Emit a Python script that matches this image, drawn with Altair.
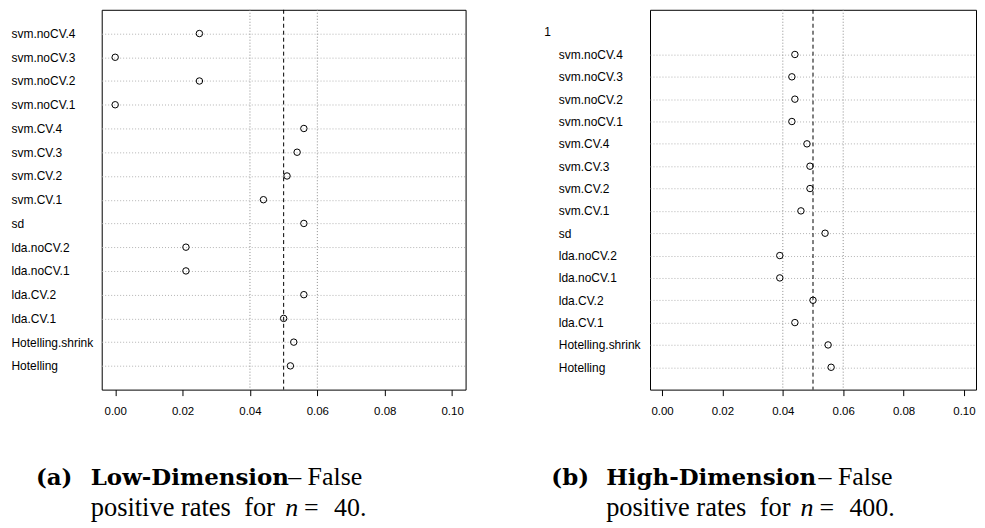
import altair as alt
import pandas as pd

# ---- data -------------------------------------------------------------
methods = ["svm.noCV.4", "svm.noCV.3", "svm.noCV.2", "svm.noCV.1",
           "svm.CV.4", "svm.CV.3", "svm.CV.2", "svm.CV.1", "sd",
           "lda.noCV.2", "lda.noCV.1", "lda.CV.2", "lda.CV.1",
           "Hotelling.shrink", "Hotelling"]
fpr_low = [0.025, 0.000, 0.025, 0.000, 0.056, 0.054, 0.051, 0.044, 0.056,
           0.021, 0.021, 0.056, 0.050, 0.053, 0.052]
fpr_high = [0.044, 0.043, 0.044, 0.043, 0.048, 0.049, 0.049, 0.046, 0.054,
            0.039, 0.039, 0.050, 0.044, 0.055, 0.056]
group_label_high = ["1"]
dotted_refs = [0.04, 0.06]
dashed_refs = [0.05]
x_ticks = [0.00, 0.02, 0.04, 0.06, 0.08, 0.10]
x_domain = [-0.004, 0.104]

caption_a_bold = ["(a)", "Low-Dimension"]
caption_a_plain = ["\u2013 False", "positive rates", "for", "=", "40."]
caption_b_bold = ["(b)", "High-Dimension"]
caption_b_plain = ["\u2013 False", "positive rates", "for", "=", "400."]
caption_italic = ["n"]

SANS = "Liberation Sans"
SERIF = "Liberation Serif"
BOLD_SERIF = "DejaVu Serif"
H = 381


def xenc():
    return alt.X(
        "fpr:Q",
        scale=alt.Scale(domain=x_domain, nice=False, zero=False),
        axis=alt.Axis(values=x_ticks, format=".2f", title=None, domain=False,
                      grid=False, ticks=True, tickSize=6, tickColor="black",
                      labelColor="black", labelFont=SANS, labelFontSize=11.5,
                      labelPadding=10, labelFlush=False),
    )


def text_piece(txt, x, y, weight="normal", style="normal", font=SERIF, size=26):
    return alt.Chart(pd.DataFrame({"t": [txt]})).mark_text(
        align="left", baseline="alphabetic", font=font, fontSize=size,
        fontWeight=weight, fontStyle=style, color="black"
    ).encode(x=alt.value(x), y=alt.value(y), text="t:N")


def panel(values, domain_labels, width, label_pad, x0, extra_label=None,
          bold=None, plain=None, cap_x=None):
    df = pd.DataFrame({"method": methods, "fpr": values})
    grid_op = 1
    label_expr = "datum.value"
    if extra_label is not None:
        grid_op = {"condition": {"test": f"datum.value == '{extra_label}'", "value": 0}, "value": 1}
        label_expr = f"datum.value == '{extra_label}' ? '' : datum.value"
    y = alt.Y(
        "method:N",
        scale=alt.Scale(type="point", domain=domain_labels, padding=1),
        axis=alt.Axis(title=None, ticks=False, tickSize=0, domain=False,
                      labelAlign="left", labelPadding=label_pad, labelFont=SANS,
                      labelFontSize=12, labelColor="black", labelExpr=label_expr,
                      grid=True, gridDash=[1, 2], gridColor="#b4b4b4",
                      gridWidth=1, gridOpacity=grid_op),
        sort=domain_labels,
    )
    points = alt.Chart(df).mark_point(
        shape="circle", filled=False, color="black", size=42, strokeWidth=1, opacity=1
    ).encode(x=xenc(), y=y)
    dotted = alt.Chart(pd.DataFrame({"fpr": dotted_refs})).mark_rule(
        color="#8c8c8c", strokeDash=[1, 2], strokeWidth=1
    ).encode(x=xenc())
    dashed = alt.Chart(pd.DataFrame({"fpr": dashed_refs})).mark_rule(
        color="black", strokeDash=[4, 3], strokeWidth=1
    ).encode(x=xenc())
    layers = [dotted, dashed, points]
    if extra_label is not None:
        grp = alt.Chart(pd.DataFrame({"method": [extra_label]})).mark_text(
            align="left", baseline="middle", font=SANS, fontSize=12, color="black"
        ).encode(y=alt.Y("method:N", scale=alt.Scale(type="point", domain=domain_labels, padding=1)),
                 x=alt.value(-106), text="method:N")
        layers.append(grp)
    # captions (page coordinates converted to panel coordinates)
    y1 = 485 - 8
    y2 = 516 - 8
    bx = cap_x
    layers.append(text_piece(bold[0], bx["lbl"] - x0, y1, weight="bold", font=BOLD_SERIF, size=23))
    layers.append(text_piece(bold[1], bx["head"] - x0, y1, weight="bold", font=BOLD_SERIF, size=23))
    layers.append(text_piece(plain[0], bx["dash"] - x0, y1))
    layers.append(text_piece(plain[1], bx["head"] - x0, y2, size=26.5))
    layers.append(text_piece(plain[2], bx["for"] - x0, y2, size=26.5))
    layers.append(text_piece(caption_italic[0], bx["n"] - x0, y2, style="italic"))
    layers.append(text_piece(plain[3], bx["eq"] - x0, y2))
    layers.append(text_piece(plain[4], bx["num"] - x0, y2))
    return alt.layer(*layers).properties(width=width, height=H)


left = panel(fpr_low, methods, 365, 91, 101,
             bold=caption_a_bold, plain=caption_a_plain,
             cap_x={"lbl": 35, "head": 90, "dash": 288, "for": 244, "n": 285, "eq": 304, "num": 334})
right = panel(fpr_high, group_label_high + methods, 327, 92, 649, extra_label="1",
              bold=caption_b_bold, plain=caption_b_plain,
              cap_x={"lbl": 550, "head": 605, "dash": 818, "for": 759, "n": 800, "eq": 819, "num": 849})

chart = alt.hconcat(left, right, spacing=77).properties(
    padding={"left": 2, "top": 0, "right": 0, "bottom": 0},
    background="white",
).configure_view(stroke="black", strokeWidth=1)

chart.save("out.html", embed_options={"renderer": "svg", "actions": False})
